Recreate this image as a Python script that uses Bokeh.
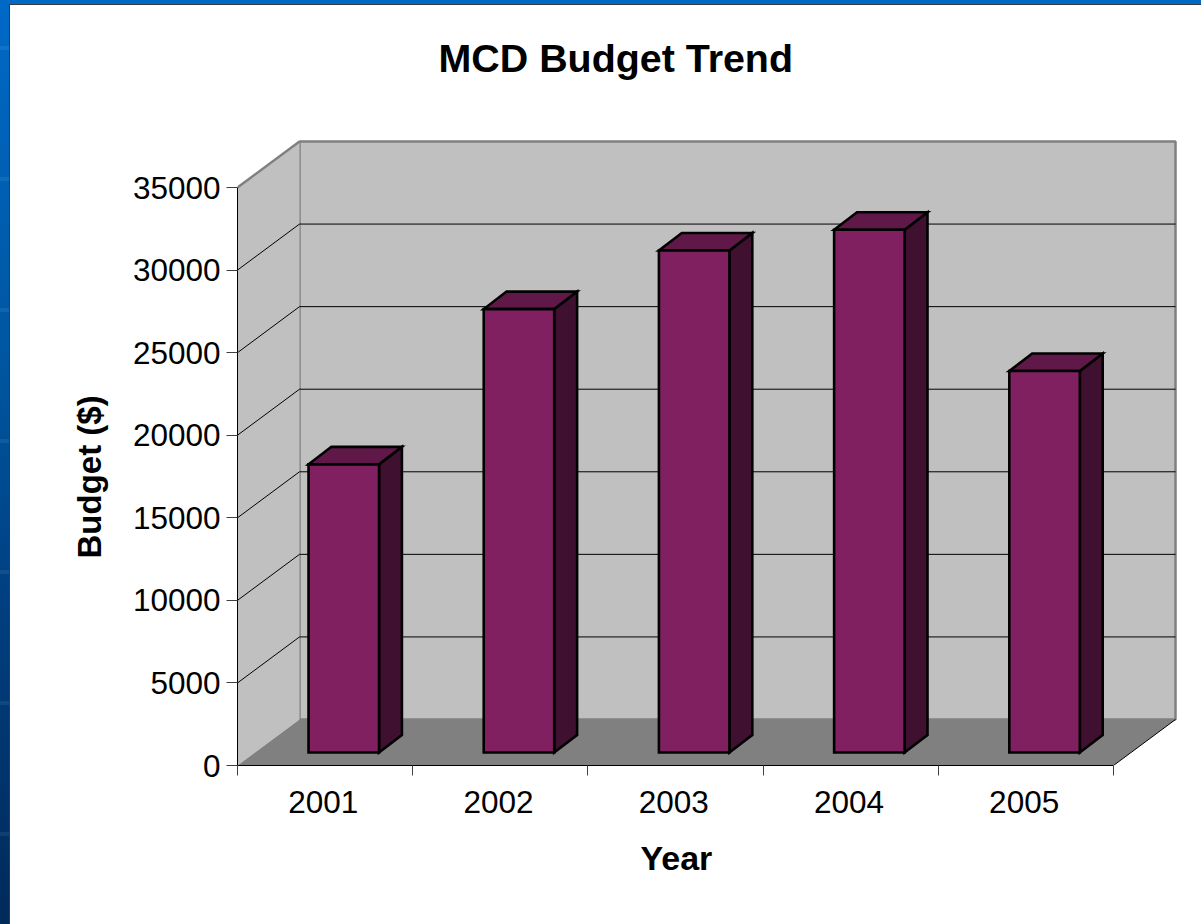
from bokeh.plotting import figure
from bokeh.models import Range1d, FixedTicker, Title
from bokeh.embed import file_html
from bokeh.resources import INLINE

years = ["2001", "2002", "2003", "2004", "2005"]
budget = [17450, 26850, 30400, 31650, 23100]
y_ticks = [0, 5000, 10000, 15000, 20000, 25000, 30000, 35000]

# pixel layout of the chart
SHIFT = 25                # extra room above the frame so that the title can sit high
W, H = 1201, 924 + SHIFT
LEFT, RIGHT, TOP, BOTTOM = 237, 1180, 138 + SHIFT, 765 + SHIFT
CAT_PX = 175.2
VAL_PX = 578 / 35000
DX = 62 / CAT_PX          # depth of the box in category units
DY = 46 / VAL_PX          # depth of the box in value units
Y_MAX = 35000

BG = """
:host {
  position: fixed !important; left: 0 !important; top: -25px !important;
  background:
    linear-gradient(#fff,#fff) 10px 30px / 100% 100% no-repeat,
    linear-gradient(#3a3a3a,#3a3a3a) 9px 29px / 100% 100% no-repeat,
    repeating-linear-gradient(180deg, transparent 0 71px, rgba(255,255,255,.07) 71px 75px, transparent 75px 131px),
    linear-gradient(180deg, #0069c6 3%, #00559f 42%, #003f80 66%, #002a5a 100%);
}
"""

p = figure(width=W, height=H, output_backend="svg", toolbar_location=None,
           x_range=Range1d(0, (RIGHT - LEFT) / CAT_PX),
           y_range=Range1d(0, (BOTTOM - TOP) / VAL_PX),
           min_border_left=LEFT, min_border_right=W - RIGHT,
           min_border_top=TOP, min_border_bottom=H - BOTTOM,
           outline_line_color=None, background_fill_color=None,
           border_fill_color=None)
p.stylesheets = [BG]
p.grid.visible = False

n = len(years)
# walls and floor
p.patch([DX, n + DX, n + DX, DX], [DY, DY, Y_MAX + DY, Y_MAX + DY],
        fill_color="#c0c0c0", line_color="#808080", line_width=2.5)
p.patch([0, DX, DX, 0], [0, DY, Y_MAX + DY, Y_MAX],
        fill_color="#c0c0c0", line_color=None)
p.line([0, DX], [Y_MAX, Y_MAX + DY], line_color="#808080", line_width=2.5)
p.patch([0, n, n + DX, DX], [0, 0, DY, DY], fill_color="#808080", line_color=None)
p.line([n, n + DX], [0, DY], line_color="#000000", line_width=1)

# grid lines running along left wall and back wall
gx = [[0, DX, n + DX] for v in y_ticks[1:-1]]
gy = [[v, v + DY, v + DY] for v in y_ticks[1:-1]]
p.multi_line(gx, gy, line_color="#000000", line_width=1)

# bars
BAR_OFF = 53.5 / CAT_PX
BAR_W = 70.5 / CAT_PX
D0 = 13 / 46
D1 = 17.5 / 46
lefts = [i + BAR_OFF + D0 * DX for i in range(n)]
rights = [l + BAR_W for l in lefts]
base = D0 * DY
tops = [base + b for b in budget]
sx, sy = D1 * DX * 0.97, D1 * DY
outline = dict(line_color="#000000", line_width=2.6, line_join="miter")
p.patches([[r, r + sx, r + sx, r] for r in rights],
          [[base, base + sy, t + sy, t] for t in tops],
          fill_color="#401030", **outline)
p.patches([[l, r, r + sx, l + sx] for l, r in zip(lefts, rights)],
          [[t, t, t + sy, t + sy] for t in tops],
          fill_color="#601848", **outline)
p.quad(left=lefts, right=rights, bottom=base, top=tops,
       fill_color="#802060", **outline)

# axes
FONT = "Liberation Sans"
xa = p.xaxis[0]
xa.bounds = (0, n)
xa.ticker = FixedTicker(ticks=[i + 0.49 for i in range(n)], minor_ticks=list(range(n + 1)))
xa.major_label_overrides = {i + 0.49: y for i, y in enumerate(years)}
xa.major_tick_in = 0
xa.major_tick_out = 0
xa.minor_tick_in = 0
xa.minor_tick_out = 10
xa.minor_tick_line_color = "#404040"
xa.axis_line_color = "#000000"
xa.major_label_standoff = 15
xa.major_label_text_font = FONT
xa.major_label_text_font_size = "31.5px"
xa.major_label_text_color = "#000000"

ya = p.yaxis[0]
ya.bounds = (0, Y_MAX)
ya.ticker = FixedTicker(ticks=y_ticks, minor_ticks=[])
ya.major_tick_in = 0
ya.major_tick_out = 11
ya.major_tick_line_color = "#404040"
ya.axis_line_color = "#000000"
ya.major_label_standoff = 6
ya.major_label_text_font = FONT
ya.major_label_text_font_size = "31.5px"
ya.major_label_text_color = "#000000"

# axis titles: placed as titles so they sit on the drawn axis extent, not the frame
p.add_layout(Title(text="Year", align="left", offset=403, text_font=FONT,
                   text_font_style="bold", text_font_size="34px",
                   text_color="#000000", standoff=42), "below")
p.add_layout(Title(text="Budget ($)", align="left", offset=207, text_font=FONT,
                   text_font_style="bold", text_font_size="33px",
                   text_color="#000000", standoff=44), "left")

p.title = Title(text="MCD Budget Trend", align="left", offset=201, text_font=FONT,
                text_font_style="bold", text_font_size="39.4px",
                text_color="#000000", standoff=114, vertical_align="top")

open("out.html", "w").write(file_html(p, INLINE))
